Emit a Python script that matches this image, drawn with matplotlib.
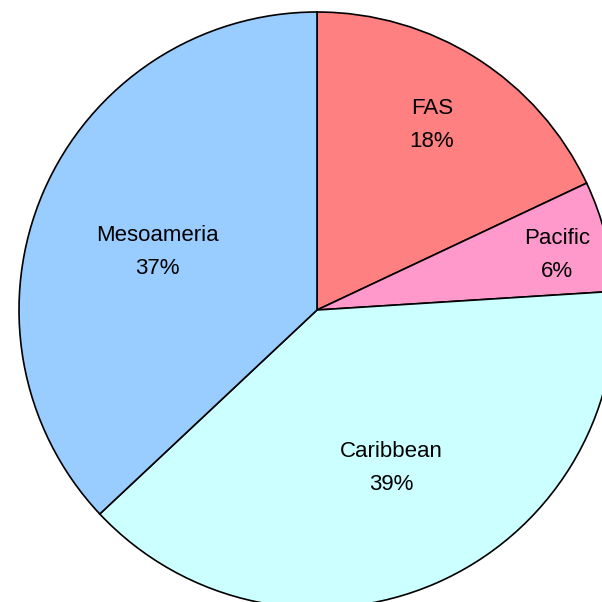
import matplotlib.pyplot as plt

# Slice data (clockwise from top)
labels = ['FAS', 'Pacific', 'Caribbean', 'Mesoameria']
shares = [18, 6, 39, 37]
colors = ['#FF8080', '#FF99CC', '#CCFFFF', '#99CCFF']

# label centres, in units of the pie radius
label_xy = [(0.386, 0.621), (0.805, 0.185), (0.248, -0.530), (-0.537, 0.195)]

plt.rcParams['font.family'] = ['Liberation Sans', 'DejaVu Sans']

fig = plt.figure(figsize=(6.02, 6.02), dpi=100)
ax = fig.add_axes([0, 0, 1, 1])

wedges, _ = ax.pie(shares, colors=colors, startangle=90, counterclock=False,
                   wedgeprops=dict(edgecolor='black', linewidth=1.2))

for (x, y), lab, s in zip(label_xy, labels, shares):
    ax.text(x, y, f'{lab}\n{s}%', ha='center', va='center',
            fontsize=16, linespacing=1.75)

ax.set_xlim(-317 / 298, 285 / 298)
ax.set_ylim(-292 / 298, 310 / 298)
ax.set_aspect('auto')
ax.axis('off')

fig.savefig('out.png', dpi=100)
